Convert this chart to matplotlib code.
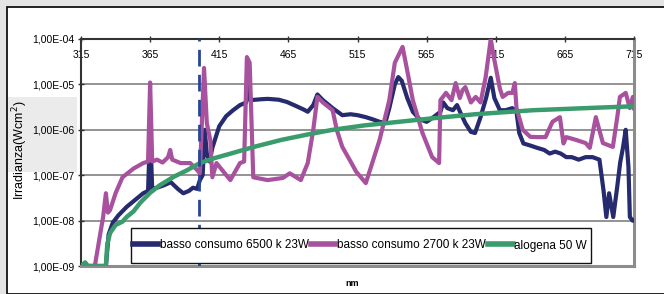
# Spettro di irradianza: lampade a basso consumo e alogena
import math
import matplotlib.pyplot as plt
import matplotlib.ticker as ticker
from matplotlib.patches import Rectangle

plt.rcParams['font.family'] = ['Liberation Sans', 'DejaVu Sans']

# ------ dati (nm, W/cm2) ------
nm_6500 = [315, 330, 333, 335, 338, 342, 348, 355, 360, 363.5, 365, 366.5, 370, 375, 380, 385,
           389, 393, 396, 399, 401, 403, 404.5, 406, 408, 410, 415, 420, 425, 430, 434.5, 436,
           437.5, 445, 450, 458, 464, 470, 476, 479, 483, 486, 490, 497, 504, 510, 515, 521,
           526, 531, 535, 538, 542, 544.5, 547, 551, 555, 560, 565, 570, 575, 577, 580, 584,
           587, 590, 593, 597, 600, 604, 608, 611.4, 614, 618, 622, 627, 630, 632, 635, 640,
           645, 650, 654, 658, 662, 666, 670, 675, 680, 685, 690, 693, 695, 697, 700, 703,
           705, 707, 709, 711, 712, 714, 715]
irr_6500 = [1e-9, 1e-9, 1e-9, 5e-9, 9e-9, 1.3e-8, 2e-8, 3e-8, 4e-8, 4.5e-8, 1e-6, 5e-8, 5.3e-8,
            6e-8, 7e-8, 5e-8, 4e-8, 4.5e-8, 5.3e-8, 5e-8, 7.8e-8, 1e-7, 1e-6, 3e-7, 2e-7, 4e-7,
            1.2e-6, 2e-6, 2.7e-6, 3.5e-6, 4e-6, 2e-5, 4.5e-6, 4.7e-6, 4.8e-6, 4.6e-6, 4.1e-6,
            3.4e-6, 2.8e-6, 2.5e-6, 3.5e-6, 6e-6, 4.5e-6, 3e-6, 2.1e-6, 2.2e-6, 2.1e-6, 1.9e-6,
            1.7e-6, 1.5e-6, 1.4e-6, 3e-6, 1e-5, 1.45e-5, 1.2e-5, 5e-6, 2.5e-6, 1.7e-6, 1.5e-6,
            1.9e-6, 2.5e-6, 4e-6, 3e-6, 2.7e-6, 3.5e-6, 2.2e-6, 1.4e-6, 9e-7, 8.5e-7, 1.9e-6,
            5e-6, 1.4e-5, 5e-6, 2.7e-6, 2.7e-6, 3e-6, 2.5e-6, 8.5e-7, 5e-7, 4.5e-7, 4e-7,
            3.6e-7, 3e-7, 3.3e-7, 3e-7, 2.5e-7, 2.5e-7, 2.2e-7, 2.5e-7, 2.5e-7, 2.2e-7, 4.5e-8,
            1.2e-8, 4e-8, 1.2e-8, 6e-8, 1.9e-7, 4e-7, 1e-6, 1.5e-7, 1.2e-8, 1e-8, 1e-8]

nm_2700 = [315, 325, 329, 331, 333, 334.5, 336, 340, 345, 353, 360, 363.5, 365, 366.5, 370, 374,
           378, 379.5, 381, 387, 394, 399, 401, 404, 406, 408.5, 410, 413, 418, 423, 430, 433,
           435, 437, 439.6, 450, 461, 466, 474, 479, 483, 486, 490, 497, 500, 504, 510, 514,
           521, 526, 531, 538, 542, 547.6, 551, 555, 562, 569, 574, 575, 579, 583, 586, 589,
           591, 593, 597, 600.5, 604, 607.7, 611.4, 613, 615, 618, 620, 624, 627, 628.8, 630,
           634.5, 640, 645, 651, 656, 661.4, 664, 666, 673, 680, 683, 687.4, 692.5, 699.7, 703,
           704.8, 709, 712, 714.2, 715]
irr_2700 = [1e-9, 1e-9, 5.3e-9, 1.2e-8, 4e-8, 1.5e-8, 1.7e-8, 4e-8, 9e-8, 1.4e-7, 1.85e-7, 2e-7,
            1.1e-5, 2e-7, 2.2e-7, 1.9e-7, 2.5e-7, 3.6e-7, 2.2e-7, 1.85e-7, 1.85e-7, 1.3e-7,
            1.1e-7, 2.3e-5, 1.4e-6, 6e-7, 9e-8, 1.85e-7, 1.2e-7, 7.8e-8, 1.85e-7, 2e-7, 4e-5,
            3e-5, 9e-8, 7.8e-8, 8.7e-8, 1.1e-7, 7.8e-8, 1.85e-7, 1e-6, 5.3e-6, 4e-6, 2.7e-6,
            1e-6, 4.2e-7, 2e-7, 1.2e-7, 6.7e-8, 2e-7, 6e-7, 4.5e-6, 3e-5, 6.7e-5, 2e-5, 4.5e-6,
            8.5e-7, 2.5e-7, 1.85e-7, 4.5e-6, 6.5e-6, 4.5e-6, 1.07e-5, 5e-6, 7.5e-6, 8.7e-6,
            4e-6, 5.3e-6, 4e-6, 1.45e-5, 1e-4, 5e-5, 2.4e-5, 8e-6, 5.3e-6, 6.5e-6, 6.5e-6,
            1.07e-5, 3e-6, 1e-6, 7e-7, 6.9e-7, 6.9e-7, 1.5e-6, 1.9e-6, 5e-7, 6.9e-7, 6e-7,
            5.1e-7, 4e-7, 1.9e-6, 5.1e-7, 4.2e-7, 2e-6, 5.3e-6, 6.5e-6, 3e-6, 5.3e-6, 3e-6]

nm_alog = [315, 318, 320, 333, 334, 336, 340, 345, 348, 353, 358, 365, 372, 382, 392, 401, 412,
           425, 440, 460, 480, 497, 520, 545, 570, 600, 642, 680, 715]
irr_alog = [1e-9, 1.2e-9, 1e-9, 1e-9, 3e-9, 5.3e-9, 8e-9, 9.5e-9, 1.2e-8, 1.6e-8, 2.5e-8, 4.1e-8,
            6e-8, 9.2e-8, 1.3e-7, 1.85e-7, 2.4e-7, 3.1e-7, 4.2e-7, 6e-7, 8e-7, 1e-6, 1.25e-6,
            1.5e-6, 1.8e-6, 2.2e-6, 2.7e-6, 3e-6, 3.3e-6]

x_ticks = [315, 365, 415, 465, 515, 565, 615, 665, 715]
y_ticks = [1e-9, 1e-8, 1e-7, 1e-6, 1e-5, 1e-4]
lambda_lim = 400

W, H = 664, 294
fig = plt.figure(figsize=(6.64, 2.94), dpi=100)
fig.patch.set_facecolor('white')

# cornice esterna e fondo grigio
fig.patches.append(Rectangle((0, 0), 1, 1, transform=fig.transFigure, facecolor='#e4e4e4', edgecolor='none', zorder=-3))
fig.patches.append(Rectangle((7/W, 0), 1, 1 - 7/H, transform=fig.transFigure, facecolor='white', edgecolor='#111111', lw=1.3, zorder=-2))
fig.patches.append(Rectangle((8/W, 1 - 172/H), 69/W, 75/H, transform=fig.transFigure, facecolor='#ebebeb', edgecolor='none', zorder=-1))

ax = fig.add_axes([81/W, 1 - 266/H, 553/W, 227/H])
ax.set_facecolor('none')

ax.plot(nm_6500, irr_6500, color='#262a6e', lw=3, solid_joinstyle='round', label='basso consumo 6500 k 23W', zorder=3)
ax.plot(nm_2700, irr_2700, color='#a8519f', lw=3, solid_joinstyle='round', label='basso consumo 2700 k 23W', zorder=4)
ax.plot(nm_alog, irr_alog, color='#3a9b6c', lw=3.2, label='alogena 50 W', zorder=5)
ax.axvline(lambda_lim, color='#2a4596', lw=2, dashes=(6, 3), zorder=6)

ax.set_yscale('log')
ax.set_xlim(315, 715)
ax.set_ylim(1e-9, 1e-4)
ax.set_yticks(y_ticks)
ax.yaxis.set_minor_locator(ticker.NullLocator())
ax.yaxis.set_major_formatter(ticker.FuncFormatter(lambda v, p: f'1,00E-{-round(math.log10(v)):02d}'))
ax.set_xticks(x_ticks)
ax.xaxis.tick_top()
ax.tick_params(axis='x', direction='inout', length=4, width=1, pad=-17, labelsize=7.5, color='#333333')
ax.tick_params(axis='y', direction='inout', length=5, width=1, pad=2, labelsize=7.5, color='#333333')
ax.grid(axis='y', color='#808080', lw=1.2, zorder=1)

for s in ['top', 'left']:
    ax.spines[s].set_color('#333333')
    ax.spines[s].set_linewidth(1.5)
for s in ['right', 'bottom']:
    ax.spines[s].set_color('#8c8c8c')
    ax.spines[s].set_linewidth(2.2)

fig.text(20/W, 1 - 150/H, 'Irradianza(Wcm$^{2}$)', rotation=90, ha='center', va='center', fontsize=9)
fig.text(352/W, 1 - 284/H, 'nm', ha='center', va='center', fontsize=6.5, fontweight='bold')

# legenda
box = Rectangle((131/W, 1 - 263/H), 460/W, 35/H, transform=fig.transFigure, facecolor='white',
                edgecolor='#111111', lw=1, zorder=7, clip_on=False)
ax.add_patch(box)
leg = ax.legend(loc='center left', bbox_to_anchor=(132/W, 1 - 245.5/H), bbox_transform=fig.transFigure,
                ncol=3, frameon=False, fontsize=8.5, handlelength=2.1, handletextpad=0.15,
                columnspacing=0.15, borderaxespad=0, borderpad=0.1)
leg.set_zorder(8)
for h in leg.get_lines():
    h.set_linewidth(4)

fig.savefig('out.png', dpi=100)
